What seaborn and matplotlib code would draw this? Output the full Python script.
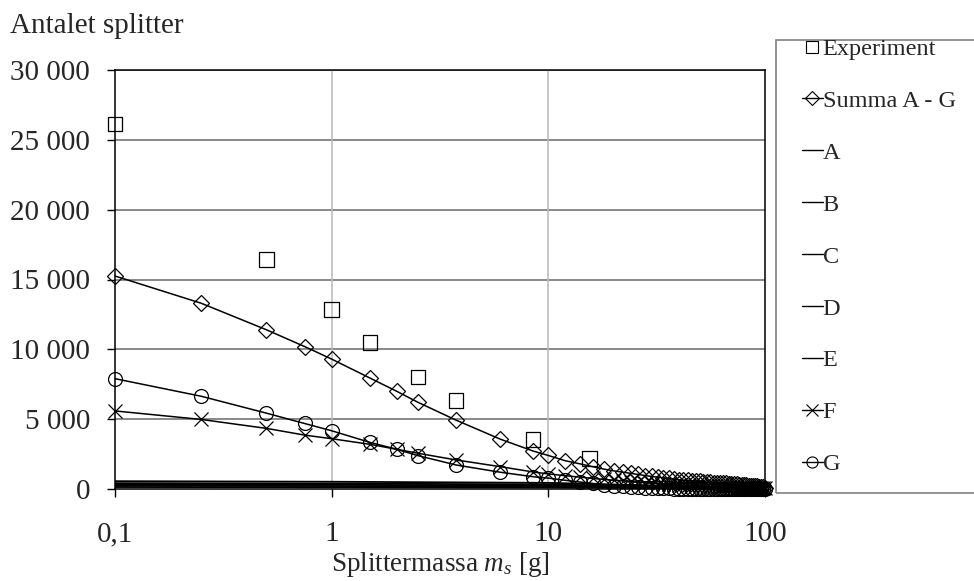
import numpy as np
import pandas as pd
import matplotlib
matplotlib.use("Agg")
import matplotlib.pyplot as plt
import seaborn as sns
from matplotlib.lines import Line2D
from matplotlib.patches import Rectangle
from matplotlib.ticker import FuncFormatter, NullLocator

# mass points used by the model curves (g)
masses = [0.1, 0.25, 0.5, 0.75, 1, 1.5, 2, 2.5, 3.75, 6, 8.5, 10,
          12, 14, 16, 18, 20, 22, 24, 26, 28, 30, 32, 34, 36, 38, 40, 42, 44, 46, 48, 50,
          52, 54, 56, 58, 60, 62, 64, 66, 68, 70, 72, 74, 76, 78, 80, 82, 84, 86, 88, 90,
          92, 94, 96, 98, 100]

summa = [15250, 13300, 11400, 10200, 9300, 7950, 6990, 6210, 4930, 3570, 2720, 2400,
         2020, 1800, 1600, 1430, 1300, 1210, 1120, 1040, 960, 900,
         850, 800, 760, 710, 660, 640, 610, 590, 560, 540,
         520, 500, 480, 465, 450, 435, 420, 400, 385, 370,
         355, 340, 320, 305, 290, 270, 250, 235, 215, 200,
         180, 160, 140, 120, 100]

f_vals = [5590, 4980, 4340, 3860, 3600, 3200, 2840, 2560, 2080, 1600, 1220, 1080,
          950, 850, 760, 690, 630, 580, 530, 490, 450, 420,
          390, 360, 335, 310, 290, 270, 250, 235, 220, 205,
          190, 178, 166, 155, 145, 135, 126, 118, 110, 103,
          96, 90, 84, 78, 73, 68, 63, 59, 55, 51,
          48, 45, 42, 39, 36]

g_vals = [7900, 6640, 5430, 4690, 4170, 3340, 2840, 2390, 1720, 1200, 880, 780,
          620, 500, 400, 310, 240, 190, 150, 120, 95, 75,
          60, 48, 38, 30, 24, 19, 15, 12, 10, 8,
          6, 5, 4, 3, 3, 2, 2, 2, 1, 1,
          1, 1, 1, 1, 0, 0, 0, 0, 0, 0,
          0, 0, 0, 0, 0]

# components A-E (thin lines near zero)
comp_x = [0.1, 1, 10, 100]
a_vals = [560, 520, 440, 60]
b_vals = [420, 390, 330, 40]
c_vals = [320, 300, 250, 30]
d_vals = [230, 215, 180, 20]
e_vals = [140, 130, 110, 10]

exp_x = [0.1, 0.5, 1, 1.5, 2.5, 3.75, 8.5, 15.5]
exp_y = [26130, 16450, 12860, 10480, 8010, 6350, 3550, 2200]

sns.set_style("white")
plt.rcParams['font.family'] = ['Liberation Serif', 'DejaVu Serif']
plt.rcParams['mathtext.fontset'] = 'custom'
plt.rcParams['mathtext.rm'] = 'Liberation Serif'
plt.rcParams['mathtext.it'] = 'Liberation Serif:italic'

fig = plt.figure(figsize=(9.74, 5.81), dpi=100)
ax = fig.add_axes([115/974, 1-489/581, 650/974, 419/581])

ax.set_xscale('log')
ax.set_xlim(0.1, 100)
ax.set_ylim(0, 30000)

# grid
for yv in range(5000, 30001, 5000):
    ax.axhline(yv, color='#6a6a6a', lw=1.1, zorder=0)
for xv in [1, 10]:
    ax.axvline(xv, color='#b8b8b8', lw=1.1, zorder=0)

mk = dict(color='black', linewidth=1.1, markerfacecolor='none',
          markeredgecolor='black', markeredgewidth=0.9, clip_on=False)

for vals in [a_vals, b_vals, c_vals, d_vals, e_vals]:
    sns.lineplot(x=comp_x, y=vals, ax=ax, color='black', linewidth=1.3, legend=False)

df = pd.DataFrame({'m': masses, 'summa': summa, 'F': f_vals, 'G': g_vals})
sns.lineplot(data=df, x='m', y='F', ax=ax, marker='x', markersize=10, legend=False, **mk)
sns.lineplot(data=df, x='m', y='G', ax=ax, marker='o', markersize=10, legend=False, **mk)
sns.lineplot(data=df, x='m', y='summa', ax=ax, marker='D', markersize=8, legend=False, **mk)
sns.scatterplot(x=exp_x, y=exp_y, ax=ax, marker='s', s=110, facecolor='none',
                edgecolor='black', linewidth=0.9, clip_on=False, zorder=5)

ax.set_xticks([0.1, 1, 10, 100])
ax.set_xticklabels(['0,1', '1', '10', '100'])
ax.xaxis.set_minor_locator(NullLocator())
ax.set_yticks(range(0, 30001, 5000))
ax.yaxis.set_major_formatter(FuncFormatter(lambda v, p: f"{int(v):,}".replace(",", " ")))
ax.tick_params(axis='both', labelsize=21, direction='out', length=6, width=1, color='black')
ax.tick_params(axis='x', pad=17)
ax.tick_params(axis='y', pad=12)
ax.tick_params(left=True, bottom=True)

for sp in ax.spines.values():
    sp.set_color('black')
    sp.set_linewidth(1.1)

ax.set_xlabel(r"Splittermassa $m_s$ [g]", fontsize=19.5, labelpad=2)
ax.set_ylabel('')
fig.text(10/974, 1-26/581, 'Antalet splitter', fontsize=21, ha='left', va='center')

# legend
fig.patches.append(Rectangle((776/974, 1-493/581), 200/974, 453/581,
                             transform=fig.transFigure, fill=False,
                             edgecolor='#808080', linewidth=1.2))
handles = [
    Line2D([], [], linestyle='none', marker='s', markersize=8, markerfacecolor='none', markeredgecolor='black', markeredgewidth=0.8),
    Line2D([], [], color='black', lw=1, marker='D', markersize=7, markerfacecolor='none', markeredgecolor='black', markeredgewidth=0.8),
    Line2D([], [], color='black', lw=1),
    Line2D([], [], color='black', lw=1),
    Line2D([], [], color='black', lw=1),
    Line2D([], [], color='black', lw=1),
    Line2D([], [], color='black', lw=1),
    Line2D([], [], color='black', lw=1, marker='x', markersize=9, markeredgewidth=0.8),
    Line2D([], [], color='black', lw=1, marker='o', markersize=8, markerfacecolor='none', markeredgecolor='black', markeredgewidth=0.8),
]
labels = ['Experiment', 'Summa A - G', 'A', 'B', 'C', 'D', 'E', 'F', 'G']
fig.legend(handles, labels, loc='upper left', bbox_to_anchor=(785/974, 1-21/581),
           frameon=False, fontsize=17.5, handlelength=0.85, handletextpad=0.0,
           labelspacing=1.23, borderpad=0.2)

fig.savefig('out.png', dpi=100)
